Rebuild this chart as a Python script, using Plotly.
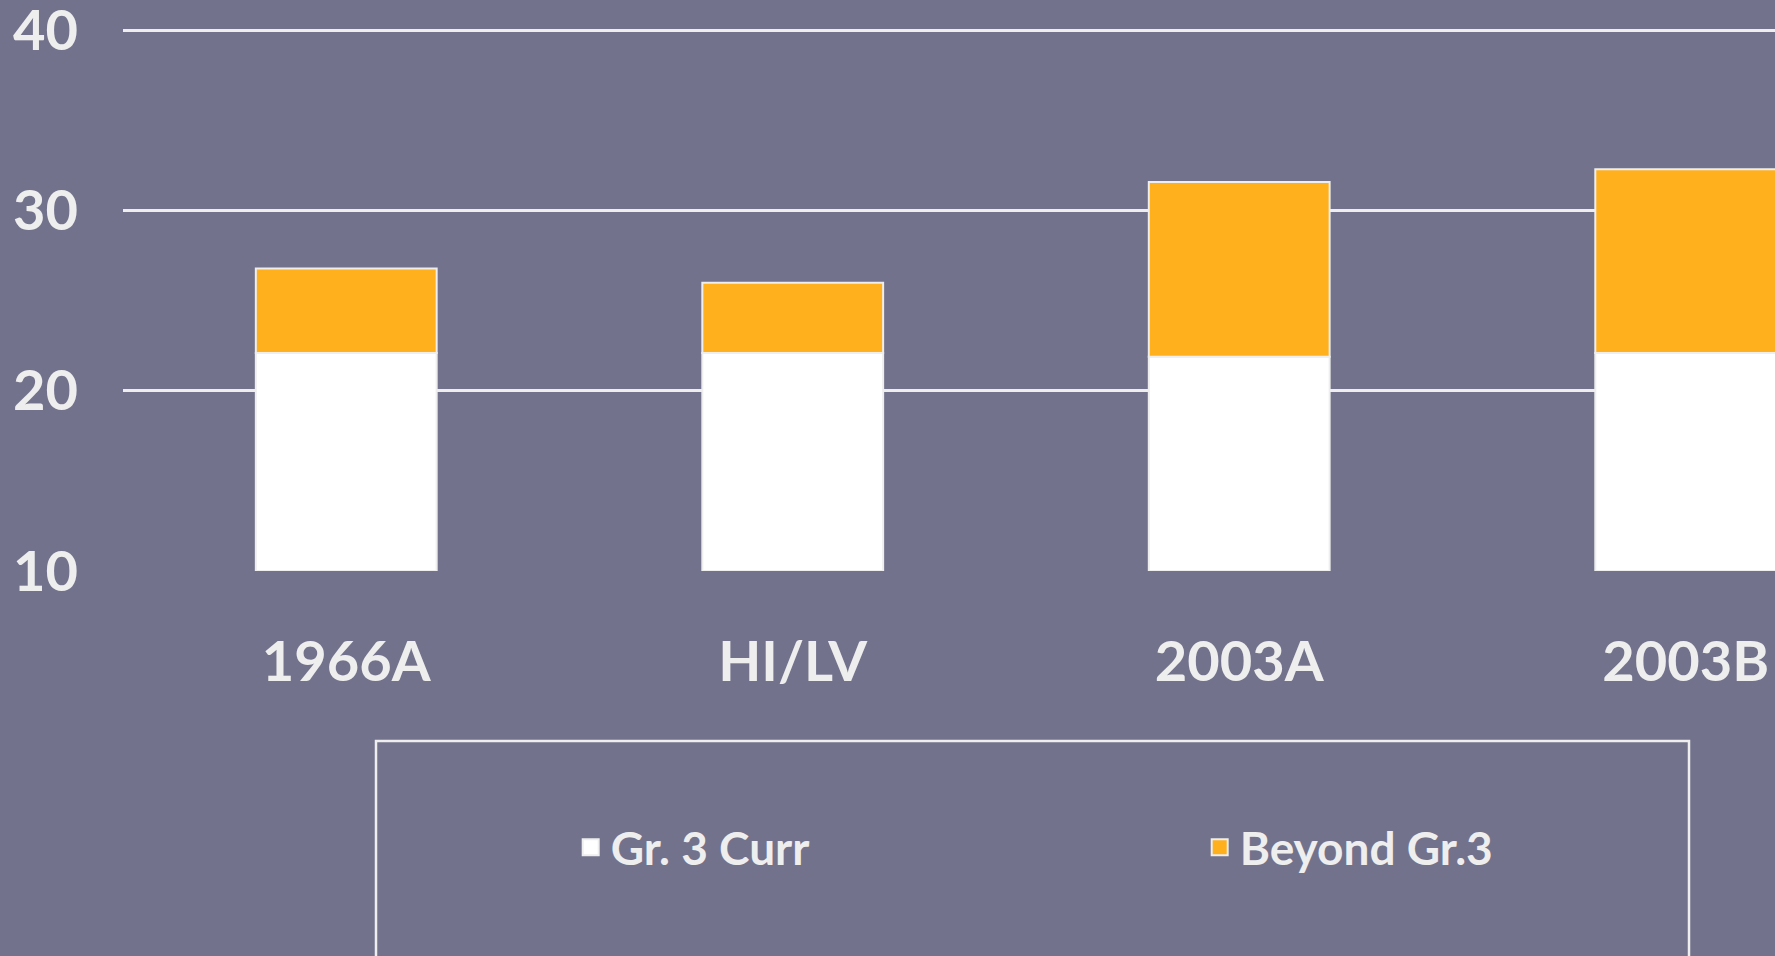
import plotly.graph_objects as go

categories = ["1966A", "HI/LV", "2003A", "2003B"]
gr3_curr = [22.1, 22.1, 21.9, 22.1]
beyond_gr3 = [4.7, 3.9, 9.7, 10.2]
y_ticks = [10, 20, 30, 40]
y_min = 10
y_max = 41.7

BG = "#72728C"
LIGHT = "#EEEEEE"
ORANGE = "#FFB01C"
FONT = "Lato"

fig = go.Figure()
fig.add_trace(go.Bar(
    x=categories, y=[v - y_min for v in gr3_curr], base=[y_min] * len(categories),
    name="Gr. 3 Curr", marker=dict(color="#FFFFFF", line=dict(color=LIGHT, width=2)),
    width=0.405, showlegend=False,
))
fig.add_trace(go.Bar(
    x=categories, y=beyond_gr3, base=gr3_curr,
    name="Beyond Gr.3", marker=dict(color=ORANGE, line=dict(color=LIGHT, width=2)),
    width=0.405, showlegend=False,
))
# legend entries
fig.add_trace(go.Scatter(x=[None], y=[None], mode="markers", name="Gr. 3 Curr",
                         marker=dict(symbol="square", size=16, color="#FFFFFF",
                                     line=dict(color=LIGHT, width=2))))
fig.add_trace(go.Scatter(x=[None], y=[None], mode="markers", name="Beyond Gr.3",
                         marker=dict(symbol="square", size=16, color=ORANGE,
                                     line=dict(color=LIGHT, width=2))))

fig.update_layout(
    width=1775, height=956,
    paper_bgcolor=BG, plot_bgcolor=BG,
    barmode="overlay",
    margin=dict(l=123, r=0, t=0, b=385, autoexpand=False),
    font=dict(family=FONT, color=LIGHT),
    showlegend=True,
    legend=dict(orientation="h", x=0.271, xanchor="left", y=-0.484, yanchor="middle",
                bgcolor="rgba(0,0,0,0)", borderwidth=0,
                font=dict(family=FONT, size=46, color=LIGHT, weight="bold"),
                entrywidth=584, entrywidthmode="pixels"),
    xaxis=dict(range=[-0.5, 3.2], showgrid=False, showline=False, zeroline=False,
               ticks="", ticklabelstandoff=53, ticklabeloverflow="allow",
               tickfont=dict(family=FONT, size=56, color=LIGHT, weight="bold")),
    yaxis=dict(range=[y_min, y_max], tickvals=y_ticks, showgrid=True,
               gridcolor=LIGHT, gridwidth=2.5, showline=False, zeroline=False,
               ticks="", ticklabelstandoff=44, ticklabeloverflow="allow",
               tickfont=dict(family=FONT, size=56, color=LIGHT, weight="bold")),
    shapes=[dict(type="rect", xref="paper", yref="paper",
                 x0=(376 - 123) / 1652, x1=(1689 - 123) / 1652,
                 y0=(571 - 741) / 571, y1=-0.75,
                 line=dict(color=LIGHT, width=2.5), fillcolor="rgba(0,0,0,0)",
                 layer="below")],
)

fig.write_html(
    "out.html",
    config={"displayModeBar": False},
    post_script="document.body.style.margin='0';document.body.style.overflow='hidden';",
)
